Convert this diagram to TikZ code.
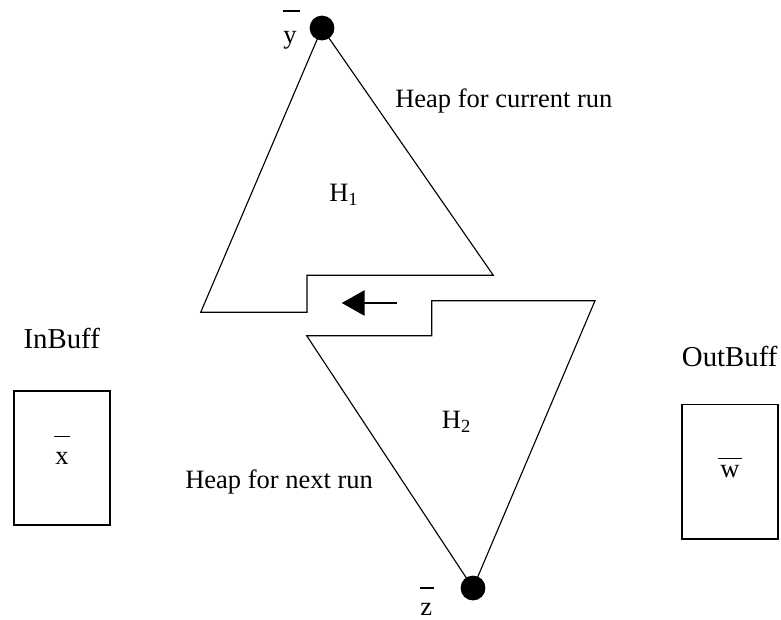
\documentclass[tikz,border=0pt]{standalone}
\usepackage{fontspec}
\setmainfont{Liberation Serif}
\usetikzlibrary{
    arrows.meta,
    positioning
}
\tikzstyle{heapline} = [
    draw=black,
    line width=0.8pt,
    line join=miter
]
\tikzstyle{buffer} = [
    rectangle,
    draw=black,
    line width=1.4pt,
    minimum width=2.4cm,
    minimum height=3.35cm,
    inner sep=0pt
]
\tikzstyle{root} = [
    circle,
    fill=black,
    minimum size=0.62cm,
    inner sep=0pt
]
\tikzstyle{lbl} = [
    anchor=base west,
    inner sep=0pt
]
\tikzstyle{buflbl} = [
    lbl,
    font=\fontsize{20.5}{24}\selectfont
]
\tikzstyle{bar} = [
    draw=black,
    line width=0.9pt
]
\tikzstyle{pointer} = [
    -{Triangle[length=0.575cm,width=0.625cm]},
    line width=2.1pt
]
\begin{document}
\begin{tikzpicture}[x=0.025cm, y=-0.025cm, font=\fontsize{18.85}{22}\selectfont]
        \useasboundingbox (0,0) rectangle (781,619);

        % Roots of the two heaps
        \coordinate (ytop) at (322,28);
        \coordinate (zbot) at (473,588);

        % Heap H1 (current run)
        \draw[heapline] (ytop) -- (200.7,312.3) -- (307,312.3) -- (307,275.3)
            -- (493.3,275.3) -- cycle;

        % Heap H2 (next run)
        \draw[heapline] (306.7,335.7) -- (431.7,335.7) -- (431.7,300.7)
            -- (595,300.7) -- (zbot) -- cycle;

        \node[root] (ydot) at (ytop) {};
        \node[root] (zdot) at (zbot) {};

        % Arrow between the heaps
        \coordinate (arrfrom) at (396.7,303);
        \coordinate (arrto) at (341.7,303);
        \draw[pointer] (arrfrom) -- (arrto);

        % Heap labels
        \node[lbl] (cur) at (395,107.3) {Heap for current run};
        \node[lbl] (nxt) at (185,488) {Heap for next run};
        \node[lbl] (h1) at (329,201.7) {H\textsubscript{1}};
        \node[lbl] (h2) at (441.7,428.3) {H\textsubscript{2}};

        % y and z
        \node[lbl] (ylbl) at (283,43.6) {y};
        \draw[bar] ([shift={(0,-32.6)}]ylbl.base west) -- ([shift={(17,-32.6)}]ylbl.base west);
        \node[lbl] (zlbl) at (420,615) {z};
        \draw[bar] ([shift={(0,-27)}]zlbl.base west) -- ([shift={(14,-27)}]zlbl.base west);

        % Buffers
        \node[buflbl] (intxt) at (23.3,348) {InBuff};
        \node[buffer] (inbuf) at (62,458) {x};
        \draw[bar] ([shift={(-8,-21.5)}]inbuf.center) -- ([shift={(8,-21.5)}]inbuf.center);

        \node[buflbl] (outtxt) at (681.7,366) {OutBuff};
        \node[buffer] (outbuf) at (730,471.5) {w};
        \draw[bar] ([shift={(-12,-13.2)}]outbuf.center) -- ([shift={(12,-13.2)}]outbuf.center);
    \end{tikzpicture}
\end{document}
